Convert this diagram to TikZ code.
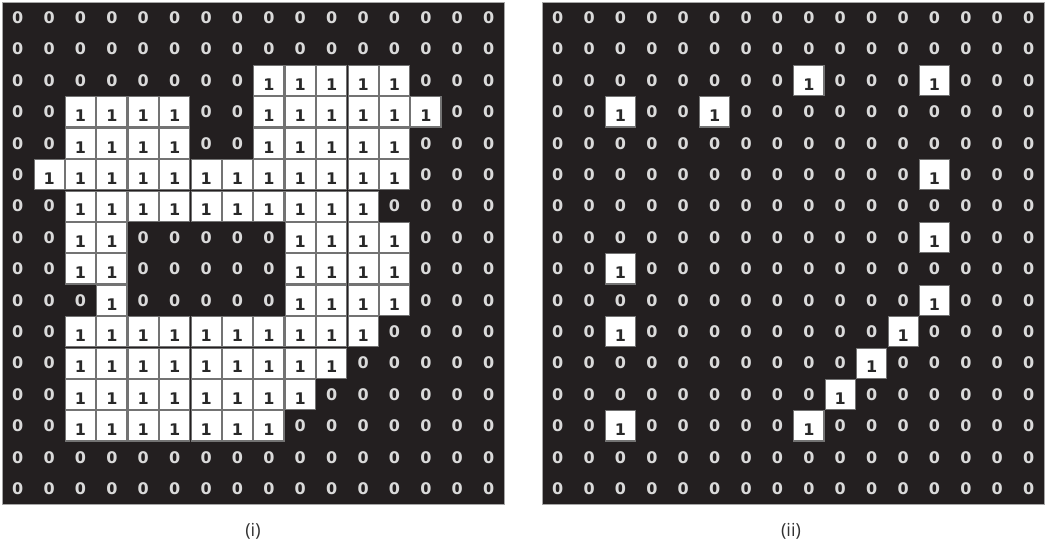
\documentclass[tikz,border=0pt]{standalone}
\usepackage{fontspec}
\setmainfont{DejaVu Sans}
\newfontfamily\labelfont{Open Sans}
\definecolor{bg}{RGB}{35,31,32}
\definecolor{zero}{RGB}{218,218,218}
\definecolor{one}{RGB}{40,40,40}
\definecolor{cap}{RGB}{50,50,50}
\def\gridL{{%
0,0,0,0,0,0,0,0,0,0,0,0,0,0,0,0,%
0,0,0,0,0,0,0,0,0,0,0,0,0,0,0,0,%
0,0,0,0,0,0,0,0,1,1,1,1,1,0,0,0,%
0,0,1,1,1,1,0,0,1,1,1,1,1,1,0,0,%
0,0,1,1,1,1,0,0,1,1,1,1,1,0,0,0,%
0,1,1,1,1,1,1,1,1,1,1,1,1,0,0,0,%
0,0,1,1,1,1,1,1,1,1,1,1,0,0,0,0,%
0,0,1,1,0,0,0,0,0,1,1,1,1,0,0,0,%
0,0,1,1,0,0,0,0,0,1,1,1,1,0,0,0,%
0,0,0,1,0,0,0,0,0,1,1,1,1,0,0,0,%
0,0,1,1,1,1,1,1,1,1,1,1,0,0,0,0,%
0,0,1,1,1,1,1,1,1,1,1,0,0,0,0,0,%
0,0,1,1,1,1,1,1,1,1,0,0,0,0,0,0,%
0,0,1,1,1,1,1,1,1,0,0,0,0,0,0,0,%
0,0,0,0,0,0,0,0,0,0,0,0,0,0,0,0,%
0,0,0,0,0,0,0,0,0,0,0,0,0,0,0,0}}
\def\gridR{{%
0,0,0,0,0,0,0,0,0,0,0,0,0,0,0,0,%
0,0,0,0,0,0,0,0,0,0,0,0,0,0,0,0,%
0,0,0,0,0,0,0,0,1,0,0,0,1,0,0,0,%
0,0,1,0,0,1,0,0,0,0,0,0,0,0,0,0,%
0,0,0,0,0,0,0,0,0,0,0,0,0,0,0,0,%
0,0,0,0,0,0,0,0,0,0,0,0,1,0,0,0,%
0,0,0,0,0,0,0,0,0,0,0,0,0,0,0,0,%
0,0,0,0,0,0,0,0,0,0,0,0,1,0,0,0,%
0,0,1,0,0,0,0,0,0,0,0,0,0,0,0,0,%
0,0,0,0,0,0,0,0,0,0,0,0,1,0,0,0,%
0,0,1,0,0,0,0,0,0,0,0,1,0,0,0,0,%
0,0,0,0,0,0,0,0,0,0,1,0,0,0,0,0,%
0,0,0,0,0,0,0,0,0,1,0,0,0,0,0,0,%
0,0,1,0,0,0,0,0,1,0,0,0,0,0,0,0,%
0,0,0,0,0,0,0,0,0,0,0,0,0,0,0,0,%
0,0,0,0,0,0,0,0,0,0,0,0,0,0,0,0}}
\begin{document}
\begin{tikzpicture}[x=0.75pt,y=-0.75pt,
  zeronode/.style={text=zero,font=\bfseries\fontsize{12}{12}\selectfont,inner sep=0pt},
  onenode/.style={fill=white,draw=black!55,line width=0.8pt,minimum size=22.6pt,inner sep=0pt,text=one,font=\bfseries\fontsize{12}{12}\selectfont},
  gridbg/.style={fill=bg,draw=black!35,line width=0.6pt},
  caption/.style={font=\labelfont\fontsize{13.5}{15}\selectfont,text=cap}]
\useasboundingbox (0,0) rectangle (1049,543);
\def\s{31.4}
\foreach \g/\ox/\arr in {L/2/\gridL, R/542/\gridR} {
  \draw[gridbg] (\ox,2) rectangle ++(502.4,502.4);
  \foreach \r in {0,...,15} {
    \foreach \c in {0,...,15} {
      \pgfmathtruncatemacro\v{\arr[\r*16+\c]}
      \ifnum\v=1
        \node[onenode] (\g-\r-\c) at ({\ox+\s*(\c+0.5)},{2+\s*(\r+0.5)}) {\raisebox{-3pt}[\height][0pt]{1}};
      \else
        \node[zeronode] (\g-\r-\c) at ({\ox+\s*(\c+0.5)},{2+\s*(\r+0.5)}) {0};
      \fi
    }
  }
}
\node[caption] (capL) at (253,531) {(i)};
\node[caption] (capR) at (791,531) {(ii)};
\end{tikzpicture}
\end{document}
